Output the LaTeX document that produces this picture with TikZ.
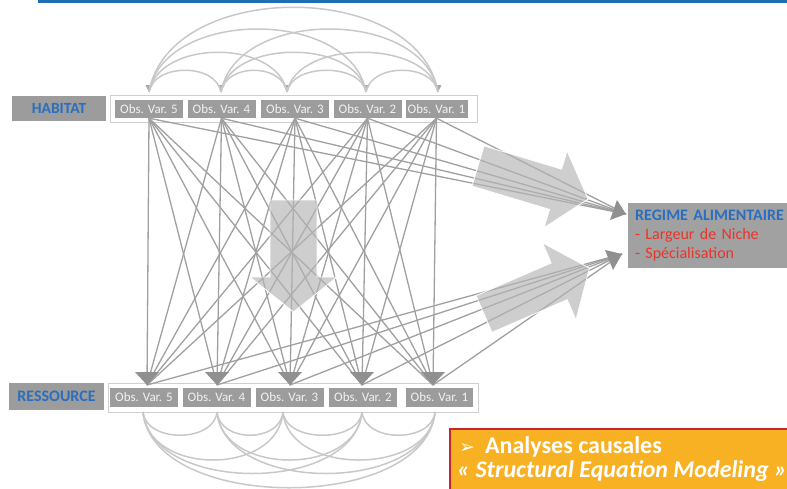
\documentclass[tikz,border=0pt]{standalone}
\usepackage{fontspec}
\setmainfont{Carlito}
\newfontfamily\dejavu{DejaVu Sans}
\usetikzlibrary{arrows.meta}
\definecolor{topblue}{HTML}{1F6DB3}
\definecolor{labblue}{HTML}{2A6EC0}
\definecolor{boxgray}{HTML}{9C9C9C}
\definecolor{linegray}{HTML}{A0A0A0}
\definecolor{arcgray}{HTML}{C8C8C8}
\definecolor{framegray}{HTML}{CFCFCF}
\definecolor{fatgray}{HTML}{B4B4B4}
\definecolor{redtxt}{HTML}{E8352B}
\definecolor{semorange}{HTML}{F8B122}
\definecolor{semred}{HTML}{C62530}
\begin{document}
\begin{tikzpicture}[x=1pt,y=-1pt,
 obs/.style={fill=boxgray, text=white!90!gray, minimum width=68pt, minimum height=18pt, inner sep=0pt, font=\fontsize{13}{13}\selectfont},
 lab/.style={fill=boxgray, text=labblue, inner sep=0pt, font=\bfseries\fontsize{15.5}{16}\selectfont},
 rowframe/.style={draw=framegray, line width=1pt, fill=white, inner sep=0pt},
 linkline/.style={draw=linegray, line width=1.3pt},
 loopline/.style={draw=arcgray, line width=1.5pt},
 tiphead/.style={fill=boxgray!92!black},
 smallhead/.style={fill=arcgray!85!black},
 fatarrow/.style={fill=fatgray, fill opacity=0.65, draw=white, line width=0.8pt}
]
\useasboundingbox (0,0) rectangle (787,488);
\fill[topblue] (38,0) rectangle (787,3);

% top row
\node[rowframe, minimum width=367pt, minimum height=27pt] (hf) at (293.5,108.5) {};
\node[lab, minimum width=94pt, minimum height=25pt] (hab) at (59,108.5) {HABITAT};
\node[obs] (h5) at (149,109) {Obs. Var. 5};
\node[obs] (h4) at (221.5,109) {Obs. Var. 4};
\node[obs] (h3) at (295,109) {Obs. Var. 3};
\node[obs] (h2) at (367.5,109) {Obs. Var. 2};
\node[obs, minimum width=62pt] (h1) at (436.5,109) {Obs. Var. 1};

% bottom row
\node[rowframe, minimum width=370pt, minimum height=29pt] (bf) at (293,397.5) {};
\node[lab, minimum width=95pt, minimum height=27pt, font=\bfseries\fontsize{16}{16}\selectfont] (res) at (56.5,396.5) {RESSOURCE};
\node[obs, minimum height=19pt] (b5) at (144,397.5) {Obs. Var. 5};
\node[obs, minimum height=19pt] (b4) at (216.5,397.5) {Obs. Var. 4};
\node[obs, minimum height=19pt] (b3) at (289.5,397.5) {Obs. Var. 3};
\node[obs, minimum height=19pt] (b2) at (363,397.5) {Obs. Var. 2};
\node[obs, minimum height=19pt, minimum width=67pt] (b1) at (439.5,397.5) {Obs. Var. 1};

% named points
\coordinate (a5) at (147,385);
\coordinate (a4) at (217,385);
\coordinate (a3) at (290,385);
\coordinate (a2) at (362,385);
\coordinate (a1) at (433,385);
\coordinate (r1) at (626,214);
\coordinate (r2) at (622,254);
\coordinate (u5) at (149,92);
\coordinate (u4) at (221,92);
\coordinate (u3) at (287,92);
\coordinate (u2) at (366,92);
\coordinate (u1) at (438,92);
\coordinate (v5) at (143,412);
\coordinate (v4) at (217,412);
\coordinate (v3) at (283,412);
\coordinate (v2) at (362,412);
\coordinate (v1) at (435,412);

% links
\foreach \i in {1,...,5}{
  \foreach \j in {1,...,5}{
    \draw[linkline] (h\i.south) -- (a\j);
  }
  \draw[linkline] (h\i.south) -- (r1);
  \draw[linkline] (a\i) -- (r2);
}

% fat arrows
\begin{scope}[shift={(478,166)}, rotate=-16.7]
  \path[fatarrow] (0,-21) -- (81,-21) -- (81,-40) -- (115,0) -- (81,40) -- (81,21) -- (0,21) -- cycle;
\end{scope}
\begin{scope}[shift={(484,314)}, rotate=23.5]
  \path[fatarrow] (0,-20) -- (82,-20) -- (82,-42) -- (115,0) -- (82,42) -- (82,20) -- (0,20) -- cycle;
\end{scope}
\path[fatarrow] (270,200) -- (317,200) -- (317,277) -- (337,277) -- (293.5,312) -- (250,277) -- (270,277) -- cycle;

% arrow heads
\foreach \i in {1,...,5}{
  \fill[tiphead] (a\i) -- +(-12,-13) -- +(12,-13) -- cycle;
  \fill[smallhead] (u\i) -- +(-3.5,-7) -- +(3.5,-7) -- cycle;
}
\fill[tiphead] (r1) -- +(-16,6) -- +(-9,-14) -- cycle;
\fill[tiphead] (r2) -- +(-17,-4) -- +(-9,16) -- cycle;

% top arcs
\draw[loopline] (u5) .. controls +(5,-29) and +(-5,-29) .. (u4);
\draw[loopline] (u4) .. controls +(5,-29) and +(-5,-29) .. (u3);
\draw[loopline] (u3) .. controls +(5,-29) and +(-5,-29) .. (u2);
\draw[loopline] (u2) .. controls +(5,-29) and +(-5,-29) .. (u1);
\draw[loopline] (u5) .. controls +(10,-53) and +(-10,-53) .. (u3);
\draw[loopline] (u4) .. controls +(10,-53) and +(-10,-53) .. (u2);
\draw[loopline] (u3) .. controls +(10,-53) and +(-10,-53) .. (u1);
\draw[loopline] (u5) .. controls +(15,-84) and +(-15,-84) .. (u2);
\draw[loopline] (u4) .. controls +(15,-84) and +(-15,-84) .. (u1);
\draw[loopline] (u5) .. controls +(20,-113) and +(-20,-113) .. (u1);

% bottom arcs
\draw[loopline] (v5) .. controls +(3,31) and +(-3,31) .. (v4);
\draw[loopline] (v4) .. controls +(3,31) and +(-3,31) .. (v3);
\draw[loopline] (v3) .. controls +(3,31) and +(-3,31) .. (v2);
\draw[loopline] (v2) .. controls +(3,31) and +(-3,31) .. (v1);
\draw[loopline] (v5) .. controls +(5,64) and +(-5,64) .. (v3);
\draw[loopline] (v4) .. controls +(5,64) and +(-5,64) .. (v2);
\draw[loopline] (v3) .. controls +(5,64) and +(-5,64) .. (v1);
\draw[loopline] (v5) .. controls +(8,82) and +(-8,82) .. (v2);
\draw[loopline] (v4) .. controls +(8,82) and +(-8,82) .. (v1);
\draw[loopline] (v5) .. controls +(10,101) and +(-10,101) .. (v1);

% regime box
\node[fill=boxgray!95!white, anchor=north west, minimum height=65pt, text width=161pt, inner xsep=7pt, inner ysep=0pt, align=left, font=\fontsize{16}{19}\selectfont] (reg) at (628,203)
 {{\color{labblue}\bfseries REGIME ALIMENTAIRE}\\{\color{redtxt}- Largeur de Niche}\\{\color{redtxt}- Spécialisation}};

% SEM box
\node[fill=semorange, draw=semred, line width=2pt, anchor=north west, minimum width=360pt, minimum height=80pt, inner sep=0pt] (sem) at (449,428) {};
\node[anchor=base west, text=white, font=\bfseries\fontsize{24}{24}\selectfont, inner sep=0pt] (sem1) at (459,453) {\makebox[26pt][l]{\dejavu\fontsize{19}{19}\selectfont ➢}Analyses causales};
\node[anchor=base west, text=white, font=\bfseries\itshape\fontsize{24}{24}\selectfont, inner sep=0pt] (sem2) at (457,477) {« Structural Equation Modeling »};
\end{tikzpicture}
\end{document}
